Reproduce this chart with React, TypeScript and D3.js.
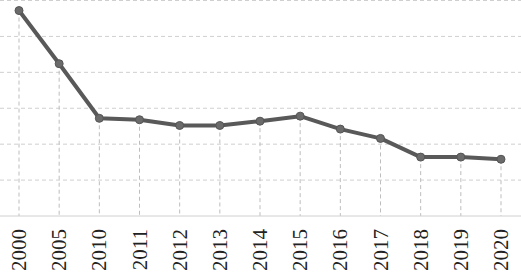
import React from "react";
import * as d3 from "d3";

const years = ["2000","2005","2010","2011","2012","2013","2014","2015","2016","2017","2018","2019","2020"];
const values = [28.6, 21.2, 13.6, 13.4, 12.6, 12.6, 13.2, 13.9, 12.1, 10.8, 8.2, 8.2, 7.9];
const yTicks = [0, 5, 10, 15, 20, 25, 30];

const W = 521, H = 273;

export default function App() {
  const x = d3.scalePoint<string>().domain(years).range([19, 501]);
  const y = d3.scaleLinear().domain([0, 30]).range([216, 0.5]);
  const line = d3.line<number>().x((_, i) => x(years[i])!).y((d) => y(d));
  return (
    <svg width={W} height={H} style={{ position: "absolute", left: 0, top: 0, background: "#fff" }}>
      {yTicks.slice(1).map((t) => (
        <line key={t} x1={0} x2={W} y1={y(t)} y2={y(t)} stroke="#cfcfcf" strokeWidth={1} strokeDasharray="4,3" />
      ))}
      {years.map((yr, i) => (
        <line key={yr} x1={x(yr)} x2={x(yr)} y1={y(values[i])} y2={y(0)} stroke="#bdbdbd" strokeWidth={1} strokeDasharray="4,3" />
      ))}
      <line x1={0} x2={W} y1={y(0)} y2={y(0)} stroke="#d0d0d0" strokeWidth={1} />
      <path d={line(values)!} fill="none" stroke="#595959" strokeWidth={4} strokeLinejoin="round" />
      {values.map((v, i) => (
        <circle key={i} cx={x(years[i])} cy={y(v)} r={4} fill="#6b6b6b" stroke="#555" strokeWidth={1} />
      ))}
      {years.map((yr) => (
        <text key={yr} transform={`translate(${x(yr)! + 7},229) rotate(-90)`} textAnchor="end"
          fontFamily="'Liberation Serif', 'Times New Roman', serif" fontSize={21} fill="#222">{yr}</text>
      ))}
    </svg>
  );
}
